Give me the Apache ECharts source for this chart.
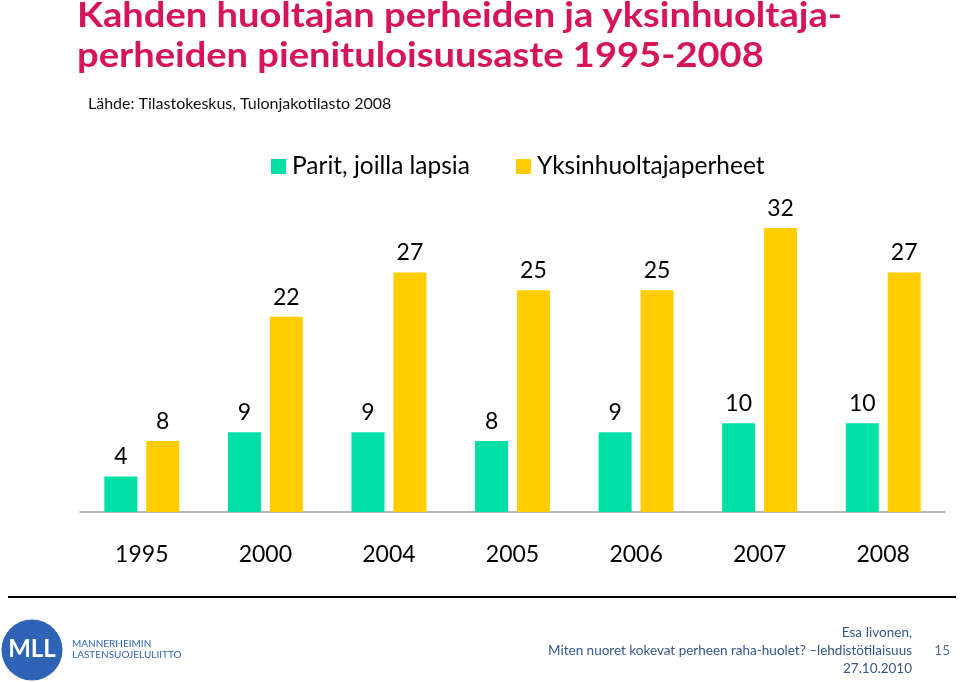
<!DOCTYPE html>
<html>
<head>
<meta charset="utf-8">
<script src="https://cdn.jsdelivr.net/npm/echarts@6/dist/echarts.min.js"></script>
<style>
html,body{margin:0;padding:0;background:#fff;}
#chart{width:960px;height:682px;}
</style>
</head>
<body>
<div id="chart"></div>
<script>
var categories = ['1995', '2000', '2004', '2005', '2006', '2007', '2008'];
var seriesNames = ['Parit, joilla lapsia', 'Yksinhuoltajaperheet'];
var paritValues = [4, 9, 9, 8, 9, 10, 10];
var yksinValues = [8, 22, 27, 25, 25, 32, 27];
var titleLines = ['Kahden huoltajan perheiden ja yksinhuoltaja-', 'perheiden pienituloisuusaste 1995-2008'];
var sourceText = 'Lähde: Tilastokeskus, Tulonjakotilasto 2008';
var footerLines = ['Esa Iivonen,', 'Miten nuoret kokevat perheen raha-huolet? \u2013lehdistötilaisuus', '27.10.2010'];
var pageNumber = '15';

var FONT = 'Lato, "Open Sans", sans-serif';
var chart = echarts.init(document.getElementById('chart'), null, {renderer: 'canvas'});

var labelStyle = {show: true, position: 'top', distance: 8, color: '#000', fontSize: 23, fontFamily: FONT};

chart.setOption({
  animation: false,
  backgroundColor: '#ffffff',
  legend: {
    left: 266, top: 149,
    itemWidth: 15, itemHeight: 15, itemGap: 46,
    icon: 'rect',
    textStyle: {fontSize: 24.5, fontFamily: FONT, color: '#000', padding: [0, 0, 0, 1]},
    data: seriesNames
  },
  grid: {left: 80, right: 15, top: 157, bottom: 170, containLabel: false},
  xAxis: {
    type: 'category',
    data: categories,
    axisLine: {show: true, lineStyle: {color: '#a0a0a0', width: 1.5}},
    axisTick: {show: false},
    axisLabel: {fontSize: 23, fontFamily: FONT, color: '#000', margin: 31}
  },
  yAxis: {
    type: 'value', min: 0, max: 40,
    show: false,
    splitLine: {show: false}
  },
  series: [
    {name: seriesNames[0], type: 'bar', data: paritValues, barWidth: 33, barGap: '27%',
     itemStyle: {color: '#00DFA6'}, label: labelStyle},
    {name: seriesNames[1], type: 'bar', data: yksinValues, barWidth: 33,
     itemStyle: {color: '#FFCC00'}, label: labelStyle}
  ],
  graphic: [
    {type: 'text', x: 77, y: 16, scaleX: 1.088, style: {text: titleLines[0], font: 'bold 35px ' + FONT, fill: '#D5145A', verticalAlign: 'middle'}},
    {type: 'text', x: 77, y: 56, scaleX: 1.088, style: {text: titleLines[1], font: 'bold 35px ' + FONT, fill: '#D5145A', verticalAlign: 'middle'}},
    {type: 'text', x: 88, y: 104, style: {text: sourceText, font: '16px ' + FONT, fill: '#111', verticalAlign: 'middle'}},
    {type: 'rect', shape: {x: 8, y: 596, width: 948, height: 2}, style: {fill: '#000'}},
    {type: 'circle', shape: {cx: 32, cy: 650, r: 30.5}, style: {fill: '#2E63B5'}},
    {type: 'text', x: 32, y: 649, style: {text: 'MLL', font: 'bold 24px ' + FONT, fill: '#fff', align: 'center', verticalAlign: 'middle'}},
    {type: 'text', x: 72, y: 644, style: {text: 'MANNERHEIMIN', font: '10px ' + FONT, fill: '#2E63B5', verticalAlign: 'middle'}},
    {type: 'text', x: 72, y: 655, style: {text: 'LASTENSUOJELULIITTO', font: '10px ' + FONT, fill: '#2E63B5', verticalAlign: 'middle'}},
    {type: 'text', x: 912, y: 633, style: {text: footerLines[0], font: '13.5px ' + FONT, fill: '#34578A', align: 'right', verticalAlign: 'middle'}},
    {type: 'text', x: 912, y: 651, style: {text: footerLines[1], font: '13.5px ' + FONT, fill: '#34578A', align: 'right', verticalAlign: 'middle'}},
    {type: 'text', x: 912, y: 669, style: {text: footerLines[2], font: '13.5px ' + FONT, fill: '#34578A', align: 'right', verticalAlign: 'middle'}},
    {type: 'text', x: 950, y: 651, style: {text: pageNumber, font: '13.5px ' + FONT, fill: '#5A6F8F', align: 'right', verticalAlign: 'middle'}}
  ]
});
</script>
</body>
</html>
